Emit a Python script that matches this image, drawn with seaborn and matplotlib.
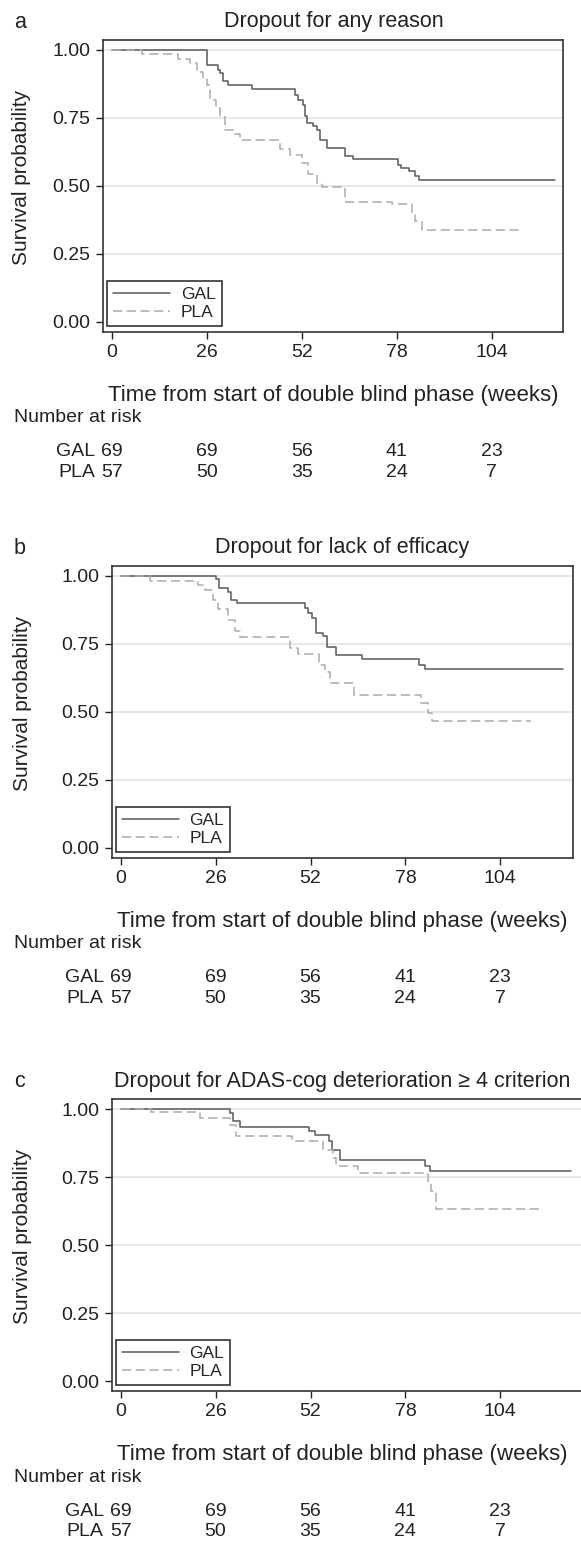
import matplotlib
matplotlib.use("Agg")
import matplotlib.pyplot as plt
import matplotlib.transforms as mtransforms
import seaborn as sns
import pandas as pd

# step times (weeks) and survival right after each step
a_gal_weeks = [0, 26.1, 29.1, 29.6, 30.3, 31.8, 38.3, 50.1, 51.0, 52.4, 53.0, 53.5,
               55.1, 56.2, 56.9, 58.8, 63.8, 65.9, 78.4, 79.1, 81.5, 82.9, 84.1, 121.4]
a_gal_surv = [1.0, 0.945, 0.927, 0.915, 0.884, 0.872, 0.856, 0.835, 0.817, 0.798, 0.755, 0.731,
              0.719, 0.707, 0.670, 0.640, 0.609, 0.597, 0.578, 0.566, 0.554, 0.538, 0.523, 0.523]
a_pla_weeks = [0, 8.1, 18.2, 21.4, 23.2, 25.0, 25.9, 26.8, 28.5, 29.6, 31.0, 33.3, 35.1,
               46.0, 48.8, 52.0, 53.8, 56.1, 57.5, 63.8, 76.6, 82.1, 83.0, 84.8, 112.7]
a_pla_surv = [1.0, 0.984, 0.966, 0.951, 0.917, 0.892, 0.872, 0.817, 0.786, 0.753, 0.707, 0.690, 0.670,
              0.636, 0.615, 0.585, 0.545, 0.511, 0.497, 0.440, 0.432, 0.400, 0.370, 0.336, 0.336]

b_gal_weeks = [0, 26.2, 26.9, 29.4, 30.1, 31.9, 50.6, 51.3, 52.4, 53.4, 55.4, 56.6,
               59.1, 66.2, 81.7, 83.3, 121.2]
b_gal_surv = [1.0, 0.99, 0.956, 0.941, 0.911, 0.899, 0.880, 0.862, 0.844, 0.789, 0.777, 0.739,
              0.709, 0.693, 0.672, 0.656, 0.656]
b_pla_weeks = [0, 7.9, 21.2, 23.0, 25.3, 26.7, 29.4, 31.2, 32.6, 46.3, 48.6, 54.3, 55.9,
               57.3, 63.8, 82.4, 84.2, 85.4, 112.5]
b_pla_surv = [1.0, 0.982, 0.966, 0.948, 0.911, 0.877, 0.837, 0.798, 0.776, 0.734, 0.713, 0.672, 0.648,
              0.605, 0.562, 0.532, 0.495, 0.467, 0.467]

c_gal_weeks = [0, 30.0, 30.8, 32.6, 51.6, 53.2, 57.1, 58.0, 60.0, 83.3, 84.7, 123.5]
c_gal_surv = [1.0, 0.985, 0.955, 0.936, 0.921, 0.906, 0.882, 0.851, 0.814, 0.792, 0.771, 0.771]
c_pla_weeks = [0, 8.4, 21.6, 29.9, 31.7, 47.0, 55.4, 58.2, 59.1, 65.0, 84.2, 85.1, 86.5, 114.8]
c_pla_surv = [1.0, 0.988, 0.967, 0.943, 0.902, 0.881, 0.851, 0.820, 0.792, 0.765, 0.735, 0.700, 0.633, 0.633]

risk_ticks = [0, 26, 52, 78, 104]
gal_at_risk = [69, 69, 56, 41, 23]
pla_at_risk = [57, 50, 35, 24, 7]

titles = ["Dropout for any reason", "Dropout for lack of efficacy",
          "Dropout for ADAS-cog deterioration \u2265 4 criterion"]
letters = ["a", "b", "c"]

W, H = 581, 1547
PX_PER_WEEK = 3.65
PANEL_W = 461  # nominal plot width in px, used for centring titles
# axes boxes in pixels: left, top, right, bottom (panel c runs off the right edge)
boxes = [(103, 40, 563, 331.7), (111.7, 566, 572.7, 857.7), (111.7, 1099.3, 592, 1391)]

sns.set_style("ticks")
plt.rcParams["font.family"] = ["Liberation Sans", "DejaVu Sans"]
INK = "#222222"

fig = plt.figure(figsize=(W / 100, H / 100), dpi=100)

curves = [(a_gal_weeks, a_gal_surv, a_pla_weeks, a_pla_surv),
          (b_gal_weeks, b_gal_surv, b_pla_weeks, b_pla_surv),
          (c_gal_weeks, c_gal_surv, c_pla_weeks, c_pla_surv)]

for i, (gw, gs, pw, ps) in enumerate(curves):
    l, t, r, b = boxes[i]
    ax = fig.add_axes([l / W, 1 - b / H, (r - l) / W, (b - t) / H])
    df = pd.concat([
        pd.DataFrame({"weeks": gw, "surv": gs, "group": "GAL"}),
        pd.DataFrame({"weeks": pw, "surv": ps, "group": "PLA"}),
    ])
    sns.lineplot(data=df, x="weeks", y="surv", hue="group", style="group",
                 palette={"GAL": "#595959", "PLA": "#ababab"},
                 dashes={"GAL": "", "PLA": (6, 3)},
                 drawstyle="steps-post", estimator=None, linewidth=1.1, ax=ax)

    x0 = -9 / PX_PER_WEEK
    ax.set_xlim(x0, x0 + (r - l) / PX_PER_WEEK)
    ax.set_ylim(-0.036, 1.036)
    ax.set_xticks(risk_ticks)
    ax.set_yticks([0, 0.25, 0.5, 0.75, 1.0])
    ax.set_yticklabels(["0.00", "0.25", "0.50", "0.75", "1.00"])
    ax.tick_params(labelsize=14, length=5, width=1, color=INK, labelcolor=INK, pad=4)
    ax.yaxis.grid(True, color="#e3e3e3", linewidth=1.2)
    ax.get_ygridlines()[0].set_visible(False)
    for sp in ax.spines.values():
        sp.set_color("#333333")
        sp.set_linewidth(1.2)

    cx = (PANEL_W / 2) / (r - l)  # axes-fraction x of the nominal centre
    ax.set_ylabel("Survival probability", fontsize=15, color=INK)
    ax.set_xlabel("Time from start of double blind phase (weeks)", fontsize=16, color=INK)
    ax.xaxis.set_label_coords(cx, -63.3 / (b - t))
    ax.xaxis.label.set_va("center")
    ax.yaxis.set_label_coords(-(l - 22) / (r - l), 0.53)
    ax.yaxis.label.set_va("center")
    ax.set_title(titles[i], fontsize=15.5, color=INK, x=cx, y=1 + 18 / (b - t),
                 va="center", pad=0)
    fig.text(14 / W, 1 - (t - 18) / H, letters[i], fontsize=15.5, color=INK, va="center")

    handles, labels = ax.get_legend_handles_labels()
    keep = [(h, lab) for h, lab in zip(handles, labels) if lab in ("GAL", "PLA")]
    leg = ax.legend([k[0] for k in keep], [k[1] for k in keep], loc="lower left",
                    bbox_to_anchor=(4 / (r - l), 0.02), borderaxespad=0, fontsize=12.5,
                    frameon=True, fancybox=False, edgecolor=INK, framealpha=1,
                    handlelength=3.3, handletextpad=0.6, borderpad=0.35, labelspacing=0.15)
    leg.get_frame().set_linewidth(1.1)

    # number at risk table under the axis
    base = ax.get_xaxis_transform()
    fig.text(14 / W, 1 - (b + 86) / H, "Number at risk", fontsize=14, color=INK, va="center")
    for row, (name, vals) in enumerate([("GAL", gal_at_risk), ("PLA", pla_at_risk)]):
        dy = -(120 + 21 * row)
        tr = mtransforms.offset_copy(base, fig=fig, x=0, y=dy, units="dots")
        for x, v in zip(risk_ticks, vals):
            ax.text(x, 0, str(v), transform=tr, ha="center", va="center", fontsize=14, color=INK)
        trl = mtransforms.offset_copy(base, fig=fig, x=-17, y=dy, units="dots")
        ax.text(0, 0, name, transform=trl, ha="right", va="center", fontsize=14, color=INK)

fig.savefig("out.png", dpi=100)
